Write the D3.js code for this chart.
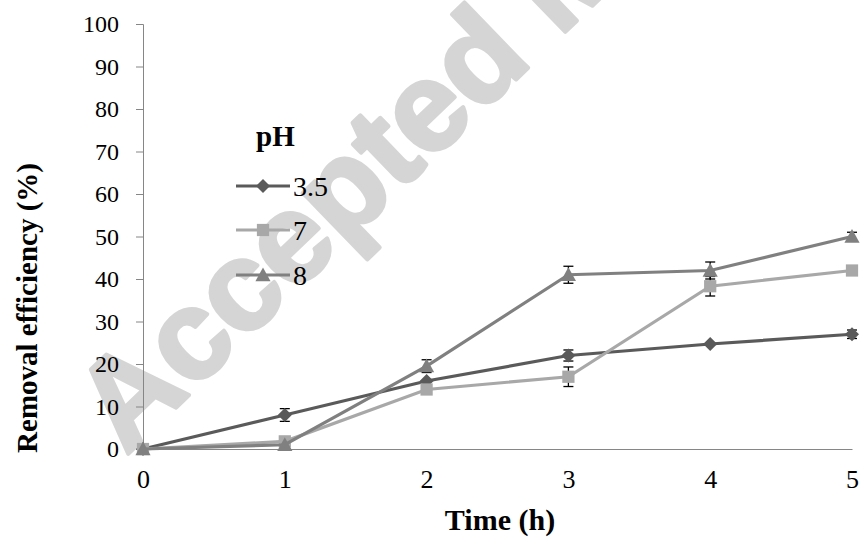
<!DOCTYPE html>
<html>
<head>
<meta charset="utf-8">
<script src="https://cdn.jsdelivr.net/npm/d3@7"></script>
<style>
  body { margin: 0; background: #fff; }
  svg { display: block; }
</style>
</head>
<body>
<div id="chart"></div>
<script>
// data
var times = [0, 1, 2, 3, 4, 5];
var yTicks = [0, 10, 20, 30, 40, 50, 60, 70, 80, 90, 100];
var seriesNames = ['3.5', '7', '8'];

var ph35 = [0, 8, 16, 22, 24.7, 27];
var ph7  = [0, 1.8, 14, 17, 38.3, 42];
var ph8  = [0, 1, 19.5, 41, 42, 50];

var ph35Err = [0, 1.5, 0, 1.3, 0, 1];
var ph7Err  = [0, 0, 0, 2.3, 2.3, 0];
var ph8Err  = [0, 0, 1.5, 2, 2, 1];

var SERIF = 'Liberation Serif';

var W = 860, H = 544;
var svg = d3.select('#chart').append('svg')
  .attr('width', W)
  .attr('height', H);

// watermark behind everything
svg.append('text')
  .attr('transform', 'translate(126,456) rotate(-44)')
  .attr('font-family', 'Liberation Sans')
  .attr('font-weight', 'bold')
  .attr('font-size', 126)
  .attr('fill', '#d5d5d5')
  .attr('stroke', '#d5d5d5')
  .attr('stroke-width', 4)
  .attr('stroke-linejoin', 'round')
  .text('Accepted Manuscript');

var x = d3.scaleLinear().domain([0, 5]).range([143, 852]);
var y = d3.scaleLinear().domain([0, 100]).range([449, 24]);

var axisColor = '#868686';

// y axis
var yAxis = svg.append('g')
  .attr('transform', 'translate(143,0)')
  .call(d3.axisLeft(y).tickValues(yTicks).tickFormat(d3.format('d')).tickSize(7).tickPadding(17));
yAxis.attr('font-family', SERIF).attr('font-size', 24);
yAxis.select('.domain').attr('stroke', axisColor);
yAxis.selectAll('.tick line').attr('stroke', axisColor);
yAxis.selectAll('.tick text').attr('fill', '#000');

// x axis
var xAxis = svg.append('g')
  .attr('transform', 'translate(0,449)')
  .call(d3.axisBottom(x).tickValues(times).tickFormat(d3.format('d')).tickSize(0).tickPadding(21));
xAxis.attr('font-family', SERIF).attr('font-size', 26);
xAxis.select('.domain').attr('stroke', axisColor);
xAxis.selectAll('.tick text').attr('fill', '#000');

// axis titles
svg.append('text')
  .attr('x', 500).attr('y', 530)
  .attr('text-anchor', 'middle')
  .attr('font-family', SERIF)
  .attr('font-size', 30)
  .attr('font-weight', 'bold')
  .text('Time (h)');

svg.append('text')
  .attr('transform', 'translate(37,308) rotate(-90)')
  .attr('text-anchor', 'middle')
  .attr('font-family', SERIF)
  .attr('font-size', 29)
  .attr('font-weight', 'bold')
  .text('Removal efficiency (%)');

// marker shapes
var diamond = {
  draw: function(ctx, size) {
    var r = Math.sqrt(size / 2);
    ctx.moveTo(0, -r); ctx.lineTo(r, 0); ctx.lineTo(0, r); ctx.lineTo(-r, 0); ctx.closePath();
  }
};
var triangle = {
  draw: function(ctx, size) {
    var s = Math.sqrt(size);
    ctx.moveTo(0, -s * 0.55); ctx.lineTo(s * 0.55, s * 0.45); ctx.lineTo(-s * 0.55, s * 0.45); ctx.closePath();
  }
};

var series = [
  { name: seriesNames[0], values: ph35, err: ph35Err, color: '#5a5a5a', symbol: diamond, size: 98 },
  { name: seriesNames[1], values: ph7, err: ph7Err, color: '#a8a8a8', symbol: d3.symbolSquare, size: 150 },
  { name: seriesNames[2], values: ph8, err: ph8Err, color: '#808080', symbol: triangle, size: 190 }
];

var line = d3.line()
  .x(function(d, i) { return x(times[i]); })
  .y(function(d) { return y(d); });

series.forEach(function(s) {
  var g = svg.append('g');
  g.append('path')
    .attr('d', line(s.values))
    .attr('fill', 'none')
    .attr('stroke', s.color)
    .attr('stroke-width', 3.2);

  // error bars
  var eb = g.selectAll('.err')
    .data(s.values.map(function(v, i) { return { t: times[i], v: v, e: s.err[i] }; })
      .filter(function(d) { return d.e > 0; }))
    .enter().append('g')
    .attr('stroke', '#000')
    .attr('stroke-width', 1.3);
  eb.append('line')
    .attr('x1', function(d) { return x(d.t); }).attr('x2', function(d) { return x(d.t); })
    .attr('y1', function(d) { return y(d.v - d.e); }).attr('y2', function(d) { return y(d.v + d.e); });
  eb.append('line')
    .attr('x1', function(d) { return x(d.t) - 5; }).attr('x2', function(d) { return x(d.t) + 5; })
    .attr('y1', function(d) { return y(d.v + d.e); }).attr('y2', function(d) { return y(d.v + d.e); });
  eb.append('line')
    .attr('x1', function(d) { return x(d.t) - 5; }).attr('x2', function(d) { return x(d.t) + 5; })
    .attr('y1', function(d) { return y(d.v - d.e); }).attr('y2', function(d) { return y(d.v - d.e); });

  g.selectAll('.mk')
    .data(s.values)
    .enter().append('path')
    .attr('transform', function(d, i) { return 'translate(' + x(times[i]) + ',' + y(d) + ')'; })
    .attr('d', d3.symbol().type(s.symbol).size(s.size))
    .attr('fill', s.color);
});

// legend
var legend = svg.append('g').attr('font-family', SERIF);
legend.append('text')
  .attr('x', 256).attr('y', 146)
  .attr('font-size', 29)
  .attr('font-weight', 'bold')
  .text('pH');

var legendY = [186, 230, 275];
series.forEach(function(s, i) {
  var ly = legendY[i];
  legend.append('line')
    .attr('x1', 236).attr('x2', 290)
    .attr('y1', ly).attr('y2', ly)
    .attr('stroke', s.color)
    .attr('stroke-width', 3.2);
  legend.append('path')
    .attr('transform', 'translate(263,' + ly + ')')
    .attr('d', d3.symbol().type(s.symbol).size(s.size))
    .attr('fill', s.color);
  legend.append('text')
    .attr('x', 293).attr('y', ly + 10)
    .attr('font-size', 28)
    .text(s.name);
});
</script>
</body>
</html>
